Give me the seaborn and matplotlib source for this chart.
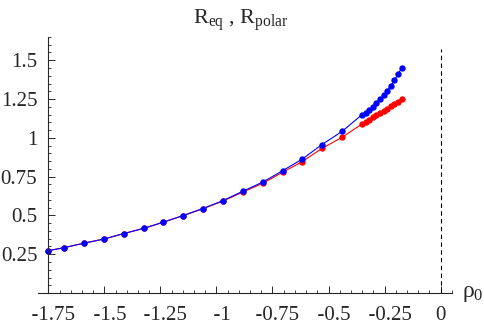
import numpy as np
import pandas as pd
import matplotlib
matplotlib.use("Agg")
import matplotlib.pyplot as plt
import seaborn as sns
from matplotlib.ticker import MultipleLocator, FixedLocator

# values
rho0 = [-1.75, -1.681, -1.592, -1.502, -1.414, -1.324, -1.238, -1.150, -1.062,
        -0.972, -0.882, -0.792, -0.704, -0.617, -0.529, -0.440, -0.350,
        -0.334, -0.318, -0.302, -0.286, -0.270, -0.254, -0.238, -0.222,
        -0.206, -0.190, -0.174]
r_eq = [0.273, 0.292, 0.321, 0.348, 0.383, 0.417, 0.456, 0.499, 0.544,
        0.595, 0.656, 0.716, 0.789, 0.863, 0.957, 1.041, 1.150,
        1.163, 1.180, 1.200, 1.223, 1.248, 1.275, 1.304, 1.336,
        1.371, 1.410, 1.450]
r_polar = [0.273, 0.292, 0.321, 0.348, 0.383, 0.417, 0.456, 0.498, 0.542,
           0.592, 0.651, 0.708, 0.779, 0.847, 0.932, 1.003, 1.090,
           1.104, 1.118, 1.132, 1.146, 1.160, 1.174, 1.188, 1.202,
           1.216, 1.231, 1.248]

x_ticks = [-1.75, -1.5, -1.25, -1.0, -0.75, -0.5, -0.25, 0.0]
x_labels = ["-1.75", "-1.5", "-1.25", "-1", "-0.75", "-0.5", "-0.25", "0"]
y_ticks = [0.25, 0.5, 0.75, 1.0, 1.25, 1.5]
y_labels = ["0.25", "0.5", "0.75", "1", "1.25", "1.5"]

df = pd.DataFrame({"rho0": rho0, "Req": r_eq, "Rpolar": r_polar})

sns.set_style("ticks")
plt.rcParams["font.family"] = ["Liberation Serif", "DejaVu Serif"]
plt.rcParams["mathtext.fontset"] = "custom"
plt.rcParams["mathtext.rm"] = "Liberation Serif"
plt.rcParams["mathtext.it"] = "Liberation Serif"

fig = plt.figure(figsize=(4.85, 3.3), dpi=100)
ax = fig.add_axes([0.078, 0.112, 0.854, 0.776])

sns.lineplot(data=df, x="rho0", y="Rpolar", color="#ff0000", marker="o",
             markersize=4.6, markeredgewidth=0, linewidth=0.8, estimator=None,
             ax=ax)
sns.lineplot(data=df, x="rho0", y="Req", color="#0000ff", marker="o",
             markersize=4.6, markeredgewidth=0, linewidth=0.8, estimator=None,
             ax=ax)

# dashed asymptote at rho0 = 0
ax.vlines(0, 0, 1.575, colors="black", linestyles=(0, (4, 3)), linewidth=0.8)

ax.set_xlim(-1.797, 0.051)
ax.set_ylim(0, 1.65)

# Mathematica-like axes crossing at (-1.75, 0)
ax.spines["left"].set_position(("data", -1.75))
ax.spines["bottom"].set_position(("data", 0))
ax.spines["right"].set_visible(False)
ax.spines["top"].set_visible(False)
for s in ["left", "bottom"]:
    ax.spines[s].set_linewidth(0.8)

# leading spaces so the digits, not the minus sign, sit under the tick
ax.xaxis.set_major_locator(FixedLocator(x_ticks))
ax.set_xticklabels(["  " + t if t.startswith("-") else t for t in x_labels])
ax.yaxis.set_major_locator(FixedLocator(y_ticks))
ax.set_yticklabels(y_labels)
ax.xaxis.set_minor_locator(MultipleLocator(0.05))
ax.yaxis.set_minor_locator(MultipleLocator(0.05))
ax.tick_params(which="major", direction="in", length=5, width=0.7,
               labelsize=15)
ax.tick_params(axis="x", which="major", pad=9)
ax.tick_params(axis="y", which="major", pad=8)
ax.tick_params(which="minor", direction="in", length=2.5, width=0.6)

ax.set_xlabel("")
ax.set_ylabel("")
ax.text(1.025, 0.0, r"$\mathrm{\rho_0}$", transform=ax.transAxes,
        fontsize=17, va="center", ha="left")
fig.text(0.497, 0.94, r"$\mathrm{R_{eq}}$ , $\mathrm{R_{polar}}$",
         fontsize=16, ha="center", va="center")

fig.savefig("out.png", dpi=100)
